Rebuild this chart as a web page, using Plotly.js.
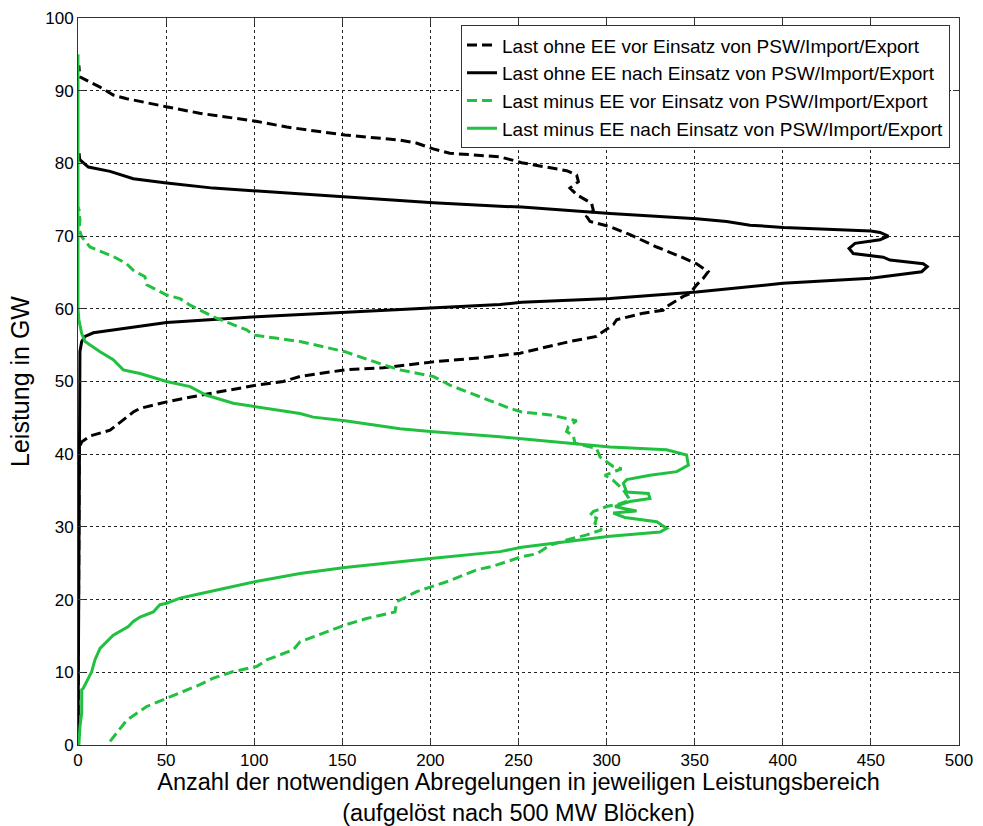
<!DOCTYPE html>
<html>
<head>
<meta charset="utf-8">
<script src="https://cdn.plot.ly/plotly-3.0.1.min.js"></script>
<style>html,body{margin:0;padding:0;background:#fff;}#chart{width:983px;height:826px;}</style>
</head>
<body>
<div id="chart"></div>
<script>
// Series names
const seriesNames = [
  'Last ohne EE vor Einsatz von PSW/Import/Export',
  'Last ohne EE nach Einsatz von PSW/Import/Export',
  'Last minus EE vor Einsatz von PSW/Import/Export',
  'Last minus EE nach Einsatz von PSW/Import/Export'
];

// Last ohne EE vor (black dashed): counts (x) and power level in GW (y)
const ohneVorCount = [0, 0.7, 2.1, 6.8, 18.2, 31.4, 35.2, 50.3, 69.2, 101.4, 116.5, 126, 151.5, 173.3, 201.6, 230, 250.9, 279.2, 294.3, 296.3, 303.8, 305.7, 320.8, 332, 334, 343.5, 347.3, 351.1, 354.9, 357.7, 351.1, 341.7, 328.4, 313.3, 302, 290.6, 288.7, 292.5, 291.5, 283, 279.2, 284, 283, 277.3, 251.8, 239.5, 211, 201.6, 192, 182.7, 151.5, 118.5, 101, 69, 50, 27.7, 20, 12.5, 1, 0.5];
const ohneVorGW =    [0, 40.8, 41.7, 42.5, 43.3, 45.8, 46.3, 47.2, 48.1, 49.5, 50.0, 50.7, 51.6, 51.9, 52.7, 53.3, 53.9, 55.5, 56.2, 56.6, 57.8, 58.5, 59.4, 59.8, 60.3, 61.7, 62.1, 63.3, 64.2, 65.1, 66.2, 67.2, 68.5, 70.2, 71.3, 72.0, 72.7, 73.5, 74.5, 75.7, 76.6, 77.5, 78.4, 79.0, 80.1, 80.9, 81.4, 82.0, 82.8, 83.2, 83.9, 85.0, 85.8, 86.9, 87.8, 88.9, 89.4, 90.5, 91.9, 93.5];

// Last ohne EE nach (black solid)
const ohneNachCount = [0, 1.1, 2.1, 4, 8.7, 31.4, 50.3, 101.4, 151.5, 201.6, 239.5, 251.8, 302, 351, 400, 450, 457, 478.8, 482, 479.7, 460.8, 457, 440, 437.6, 441, 455.2, 459.9, 455.2, 450, 400.3, 381.4, 368.1, 351.1, 302, 251.8, 239.5, 201.6, 151.5, 101.4, 76.8, 50.3, 31.4, 18.2, 5.9, 1, 0.6];
const ohneNachGW =    [0, 54.1, 55.5, 56.2, 56.7, 57.5, 58.1, 58.9, 59.5, 60.2, 60.6, 60.9, 61.4, 62.3, 63.5, 64.2, 64.4, 65.1, 65.8, 66.2, 66.7, 67.1, 67.6, 68.3, 69.0, 69.5, 70.0, 70.5, 70.7, 71.2, 71.5, 72.0, 72.4, 73.1, 74.0, 74.1, 74.6, 75.4, 76.2, 76.6, 77.3, 77.9, 78.9, 79.5, 80.5, 81.4];

// Last minus EE vor (green dashed)
const minusVorCount = [18.2, 27.6, 39, 50.3, 69.2, 76.8, 88.1, 101.4, 107.1, 122.2, 126, 151.5, 163.8, 179.9, 180.9, 192.2, 201.6, 211, 226.3, 235.7, 251.8, 260.3, 268, 277.3, 288.7, 297.2, 295.3, 293.4, 294.3, 290.6, 292.4, 300, 307.6, 313.3, 309.5, 303.8, 299, 308.5, 303.8, 296.3, 294.3, 282, 281.1, 277.3, 278.3, 283, 268, 251.8, 245.2, 228, 211, 201.6, 182.7, 173.3, 151.5, 126, 99.5, 95.7, 78.7, 63.6, 57.9, 50.3, 39, 38, 31.4, 27.6, 20, 6.8, 2.1, 0.6, 1.1, 0.6, 0];
const minusVorGW =    [0.5, 3.4, 5.3, 6.4, 8.3, 9.2, 10.1, 10.8, 11.7, 13.1, 14.2, 16.5, 17.4, 18.3, 19.7, 21.1, 21.8, 22.6, 24.1, 24.6, 25.9, 26.3, 27.5, 28.2, 28.9, 29.6, 30.0, 30.5, 31.2, 31.6, 32.1, 32.8, 33.2, 33.7, 35.1, 36.4, 37.1, 38.0, 38.3, 39.6, 40.8, 41.5, 42.6, 43.1, 43.8, 44.6, 45.4, 45.8, 46.3, 47.9, 49.5, 50.7, 51.6, 52.3, 54.1, 55.5, 56.4, 57.1, 58.7, 60.5, 61.4, 61.9, 63.3, 64.4, 65.3, 66.2, 67.2, 68.5, 69.9, 71.0, 72.2, 73.6, 74.0];

// Last minus EE nach (green solid)
const minusNachCount = [0.5, 1.1, 2.1, 2.1, 3, 7.8, 9.6, 12.5, 20, 28.6, 31.4, 35.2, 42.7, 46.5, 50.3, 57.9, 69.2, 88.1, 101, 126, 151.5, 201.6, 239.5, 251.8, 268, 301.9, 330.3, 334.1, 328.4, 310.4, 303.8, 317, 310.4, 304.8, 309.5, 313.3, 324.6, 323.7, 311.4, 309.5, 311.4, 324.6, 339.8, 346.4, 345.4, 334, 302, 251.8, 239.5, 201.6, 182.7, 151.5, 133.5, 126, 101.4, 88.1, 73, 63.6, 50.3, 35.2, 25.7, 20, 12.5, 4, 2.1, 0.5, 0, 0];
const minusNachGW =    [0, 2.5, 4.4, 7.6, 7.8, 10.1, 11.7, 13.3, 15.1, 16.3, 17.0, 17.6, 18.3, 19.3, 19.5, 20.2, 20.8, 21.8, 22.5, 23.6, 24.4, 25.7, 26.6, 27.2, 27.7, 28.7, 29.3, 29.8, 30.7, 31.3, 31.9, 32.2, 32.5, 32.8, 33.2, 33.5, 33.9, 34.6, 34.8, 36.0, 36.5, 37.1, 37.6, 38.5, 39.9, 40.6, 41.0, 42.2, 42.4, 43.1, 43.5, 44.6, 45.1, 45.6, 46.5, 47.0, 48.1, 49.3, 50.0, 51.1, 51.6, 53.0, 54.1, 55.5, 56.6, 58.5, 60.0, 95.0];

// Axis ticks
const xTicks = [0, 50, 100, 150, 200, 250, 300, 350, 400, 450, 500];
const yTicks = [0, 10, 20, 30, 40, 50, 60, 70, 80, 90, 100];

const GREEN = 'rgb(34,192,64)';
const FONT = 'Liberation Sans, Arial, Helvetica, sans-serif';

const traces = [
  {x: ohneVorCount, y: ohneVorGW, name: seriesNames[0], mode: 'lines',
   line: {color: '#000', width: 3, dash: '10px,5px'}},
  {x: ohneNachCount, y: ohneNachGW, name: seriesNames[1], mode: 'lines',
   line: {color: '#000', width: 3}},
  {x: minusVorCount, y: minusVorGW, name: seriesNames[2], mode: 'lines',
   line: {color: GREEN, width: 3, dash: '10px,5px'}},
  {x: minusNachCount, y: minusNachGW, name: seriesNames[3], mode: 'lines',
   line: {color: GREEN, width: 3}}
];

const axisCommon = {
  showline: true, mirror: 'ticks', linecolor: '#333', linewidth: 1,
  ticks: 'inside', ticklen: 6, tickcolor: '#333', tickwidth: 1,
  showgrid: true, gridcolor: '#222', gridwidth: 1, griddash: 'dot',
  zeroline: false, tickfont: {family: FONT, size: 17, color: '#000'}
};

const layout = {
  width: 983, height: 826,
  margin: {l: 78, r: 24, t: 18, b: 81},
  paper_bgcolor: '#fff', plot_bgcolor: '#fff',
  font: {family: FONT, color: '#000'},
  showlegend: true,
  legend: {
    x: 0.9898, y: 0.990, xanchor: 'right', yanchor: 'top',
    bgcolor: '#fff', bordercolor: '#333', borderwidth: 1,
    font: {family: FONT, size: 19, color: '#000'}
  },
  xaxis: Object.assign({}, axisCommon, {
    range: [0, 500], tickmode: 'array', tickvals: xTicks, ticktext: xTicks.map(String),
    title: {text: 'Anzahl der notwendigen Abregelungen in jeweiligen Leistungsbereich<br>(aufgelöst nach 500 MW Blöcken)',
            font: {family: FONT, size: 23.5, color: '#000'}, standoff: 8}
  }),
  yaxis: Object.assign({}, axisCommon, {
    range: [0, 100], tickmode: 'array', tickvals: yTicks, ticktext: yTicks.map(String),
    title: {text: 'Leistung in GW', font: {family: FONT, size: 25, color: '#000'}, standoff: 8}
  }),
  hovermode: false
};

Plotly.newPlot('chart', traces, layout, {displayModeBar: false, staticPlot: true});
</script>
</body>
</html>
